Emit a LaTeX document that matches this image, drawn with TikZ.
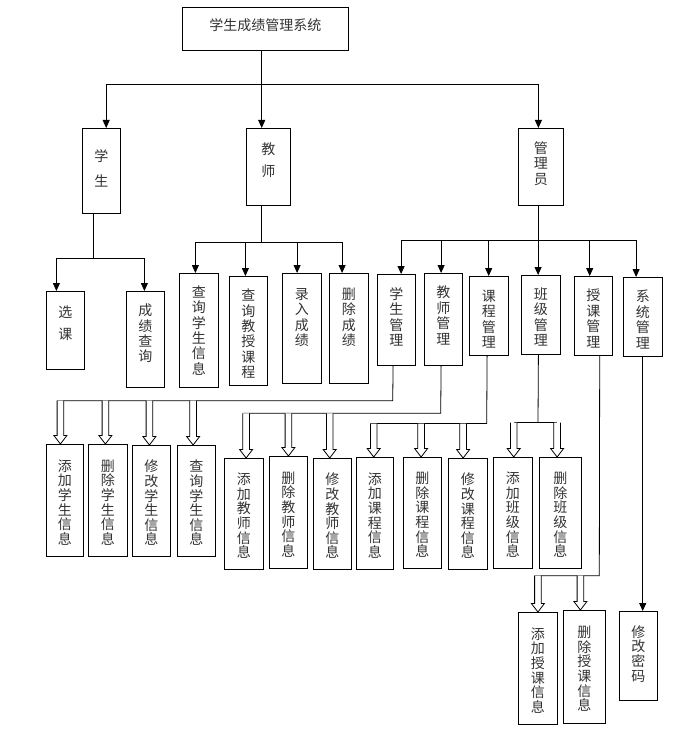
\documentclass[tikz,border=0pt]{standalone}
\usepackage{fontspec}
\setmainfont{Noto Sans CJK SC}
\usetikzlibrary{arrows.meta,calc}
\newcommand\mybx[8]{%
  \node[box, minimum width={(#4-#2)*1pt}, minimum height={(#5-#3)*1pt}] (#1) at (#2,#3) {};
  \node[txt, font=\fontsize{14}{#8}\selectfont] (#1t) at ([yshift=#7pt]#1.center) {#6};}
\newcommand\hol[3]{%
  \draw[fill=white] let \p1=([xshift=#3pt]#2.north), \p2=(#1) in
    (\x1-3.3pt,\y2) -- (\x1-3.3pt,\y1+8.5pt) -- (\x1-6.5pt,\y1+8.5pt) -- (\x1,\y1)
    -- (\x1+6.5pt,\y1+8.5pt) -- (\x1+3.3pt,\y1+8.5pt) -- (\x1+3.3pt,\y2);}
\begin{document}
\begin{tikzpicture}[x=1pt,y=-1pt,line width=0.8pt,
  box/.style={draw, inner sep=0pt, anchor=north west},
  txt/.style={align=center, inner sep=0pt, text=black!80},
  arr/.style={-{Triangle[length=8pt,width=7pt]}}]
\useasboundingbox (0,0) rectangle (692,743);
% level 0 and 1
\mybx{root}{182}{7}{348}{50}{学生成绩管理系统}{4}{16}
\mybx{stu}{82}{128}{120}{213}{学\\生}{3}{25}
\mybx{tea}{246}{128}{290}{205}{教\\师}{7}{22.4}
\mybx{adm}{518}{128}{563}{205}{管\\理\\员}{3.7}{15.5}
% student children
\mybx{xk}{46}{291}{84}{369}{选\\课}{7}{22.3}
\mybx{cj}{126}{291}{164}{387}{成\\绩\\查\\询}{6}{15.3}
% teacher children
\mybx{ta}{179}{273}{218}{387}{查\\询\\学\\生\\信\\息}{0}{15.3}
\mybx{tb}{229}{276}{267}{385}{查\\询\\教\\授\\课\\程}{-3}{15.3}
\mybx{tc}{282}{273}{321}{383}{录\\入\\成\\绩}{11}{15.5}
\mybx{td}{329}{273}{368}{383}{删\\除\\成\\绩}{11}{15.5}
% admin children
\mybx{smg}{377}{274}{415}{365}{学\\生\\管\\理}{3}{15.5}
\mybx{emg}{424}{273}{462}{365}{教\\师\\管\\理}{4}{15.5}
\mybx{cmg}{469}{276}{508}{355}{课\\程\\管\\理}{-3}{15.5}
\mybx{kmg}{521}{275}{560}{354}{班\\级\\管\\理}{-2}{15.5}
\mybx{gmg}{574}{276}{612}{355}{授\\课\\管\\理}{-2.5}{15.5}
\mybx{ymg}{623}{277}{662}{356}{系\\统\\管\\理}{-2.5}{15.5}
% info boxes
\mybx{s1}{46}{444}{83}{556}{添\\加\\学\\生\\信\\息}{-2}{14.6}
\mybx{s2}{88}{444}{127}{556}{删\\除\\学\\生\\信\\息}{-2}{14.6}
\mybx{s3}{132}{445}{170}{556}{修\\改\\学\\生\\信\\息}{-2}{14.6}
\mybx{s4}{177}{445}{215}{556}{查\\询\\学\\生\\信\\息}{-2}{14.6}
\mybx{e1}{224}{458}{263}{569}{添\\加\\教\\师\\信\\息}{-2}{14.6}
\mybx{e2}{269}{456}{307}{568}{删\\除\\教\\师\\信\\息}{-2}{14.6}
\mybx{e3}{313}{458}{351}{569}{修\\改\\教\\师\\信\\息}{-2}{14.6}
\mybx{c1}{356}{457}{393}{569}{添\\加\\课\\程\\信\\息}{-2}{14.6}
\mybx{c2}{403}{457}{441}{568}{删\\除\\课\\程\\信\\息}{-2}{14.6}
\mybx{c3}{448}{458}{487}{569}{修\\改\\课\\程\\信\\息}{-2}{14.6}
\mybx{k1}{493}{457}{532}{568}{添\\加\\班\\级\\信\\息}{-2}{14.6}
\mybx{k2}{539}{457}{581}{568}{删\\除\\班\\级\\信\\息}{-2}{14.6}
\mybx{g1}{518}{612}{557}{724}{添\\加\\授\\课\\信\\息}{-2}{14.6}
\mybx{g2}{563}{610}{605}{723}{删\\除\\授\\课\\信\\息}{-2}{14.6}
\mybx{p1}{619}{611}{657}{700}{修\\改\\密\\码}{2}{14.7}
% top bus
\coordinate (b0) at (261.7,84);
\draw (b0 |- root.south) -- (b0);
\draw[arr] (b0) -| ([xshift=4.8pt]stu.north);
\draw[arr] (b0) -- (b0 |- tea.north);
\draw[arr] (b0) -| ([xshift=-2.5pt]adm.north);
% student bus
\coordinate (sb) at (93.3,258);
\draw (sb |- stu.south) -- (sb);
\draw[arr] (sb) -| ([xshift=-9pt]xk.north);
\draw[arr] (sb) -| ([xshift=-1pt]cj.north);
% teacher bus
\coordinate (tbus) at (261.7,242.7);
\draw (tbus |- tea.south) -- (tbus);
\draw[arr] (tbus) -| ([xshift=-3.5pt]ta.north);
\draw[arr] (tbus) -| ([xshift=-3pt]tb.north);
\draw[arr] (tbus) -| ([xshift=-4.8pt]tc.north);
\draw[arr] (tbus) -| ([xshift=-6.8pt]td.north);
% admin bus
\coordinate (ab) at (538,240.7);
\draw (ab |- adm.south) -- (ab);
\draw[arr] (ab) -| ([xshift=4.7pt]smg.north);
\draw[arr] (ab) -| ([xshift=-2.3pt]emg.north);
\draw[arr] (ab) -| ([xshift=-0.2pt]cmg.north);
\draw[arr] (ab) -| ([xshift=-2.8pt]kmg.north);
\draw[arr] (ab) -| ([xshift=-3.7pt]gmg.north);
\draw[arr] (ab) -| ([xshift=-6.8pt]ymg.north);
% student info bus
\coordinate (sib) at (392.7,400.7);
\draw ([xshift=-3.3pt]smg.south) -- (sib) -- ([xshift=-7.8pt]s1.north |- sib);
\hol{sib}{s1}{-4.5}\hol{sib}{s2}{-2.5}\hol{sib}{s3}{-2}\hol{sib}{s4}{-3.3}
% teacher info bus
\coordinate (eib) at (440.7,413.3);
\draw ([xshift=-2.3pt]emg.south) -- (eib) -- ([xshift=-1.1pt]e1.north |- eib);
\hol{eib}{e1}{2.2}\hol{eib}{e2}{0}\hol{eib}{e3}{-2.7}
% course info bus
\coordinate (cib) at (486.7,423.5);
\draw ([xshift=-1.8pt]cmg.south) -- (cib) -- ([xshift=-4.5pt]c1.north |- cib);
\hol{cib}{c1}{-1.2}\hol{cib}{c2}{-1.3}\hol{cib}{c3}{-4.8}
% class info bus
\coordinate (kib) at (538,422.7);
\draw ([xshift=-2.5pt]kmg.south) -- (kib);
\draw ([xshift=0.8pt]k1.north |- kib) -- ([xshift=-3.3pt]k2.north |- kib);
\hol{kib}{k1}{0.8}\hol{kib}{k2}{-3.3}
% teaching info bus
\coordinate (gib) at (599.3,575.7);
\draw ([xshift=6.3pt]gmg.south) -- (gib) -- ([xshift=-3.3pt]g1.north |- gib);
\hol{gib}{g1}{0}\hol{gib}{g2}{-4}
% system
\draw[arr] ([xshift=-0.2pt]ymg.south) -- ([xshift=-0.2pt]ymg.south |- p1.north);
\end{tikzpicture}
\end{document}
